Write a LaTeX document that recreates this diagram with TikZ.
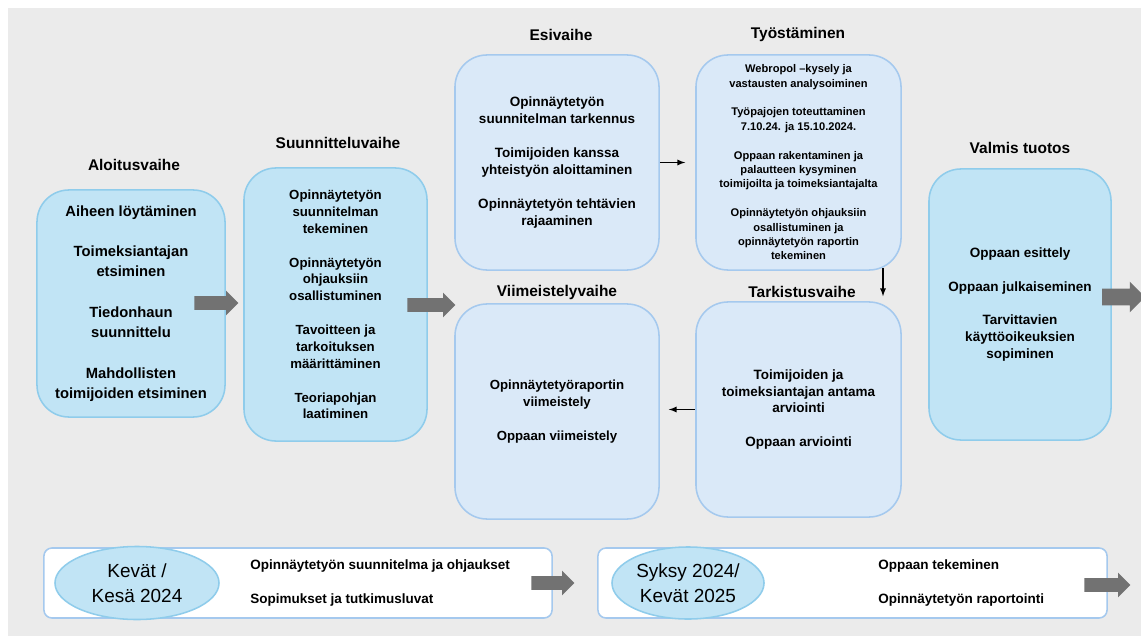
\documentclass[tikz,border=0pt]{standalone}
\usepackage{fontspec}
\setmainfont{Liberation Sans}
\usetikzlibrary{shapes.geometric,shapes.arrows}
\definecolor{bggray}{HTML}{EBEBEB}
\definecolor{cyanfill}{HTML}{C1E4F5}
\definecolor{cyandraw}{HTML}{8FCCEB}
\definecolor{palefill}{HTML}{DAE9F8}
\definecolor{paledraw}{HTML}{A5C9EE}
\definecolor{arrowgray}{HTML}{727272}
\tikzset{
  phasebox/.style={rectangle,rounded corners=0.8cm,line width=1.1pt,align=center,inner sep=0pt,text=black},
  cyanbox/.style={phasebox,draw=cyandraw,fill=cyanfill},
  palebox/.style={phasebox,draw=paledraw,fill=palefill},
  phasetitle/.style={font=\fontsize{11}{13}\selectfont\bfseries,text=black},
  blockarrow/.style={single arrow,fill=arrowgray,draw=none,inner xsep=0pt,inner ysep=0.1625cm,minimum width=0.6cm,single arrow head extend=0.1375cm,single arrow head indent=0pt},
  bigblockarrow/.style={blockarrow,inner ysep=0.2cm,minimum width=0.75cm,single arrow head extend=0.175cm},
  thinarrow/.style={-latex,line width=0.9pt,black},
  timebar/.style={rectangle,rounded corners=0.2cm,draw=paledraw,fill=white,line width=1.1pt,minimum height=1.75cm},
  timeoval/.style={ellipse,draw=cyandraw,fill=cyanfill,line width=1.1pt,align=center,inner sep=0pt,font=\fontsize{13.5}{17.5}\selectfont},
  timetext/.style={align=left,anchor=west,inner sep=0pt,font=\fontsize{9.6}{24}\selectfont\bfseries}
}
\begin{document}
\begin{tikzpicture}[x=0.025cm,y=-0.025cm]
\useasboundingbox (0,0) rectangle (1141,636);
\fill[bggray] (8,8) rectangle (1141,636);

\node[cyanbox,minimum width=4.7cm,minimum height=5.675cm,font=\fontsize{10.5}{14.4}\selectfont\bfseries] (alo) at (131,303.5) {Aiheen löytäminen\\[14.4pt] Toimeksiantajan\\ etsiminen\\[14.4pt] Tiedonhaun\\ suunnittelu\\[14.4pt] Mahdollisten\\ toimijoiden etsiminen};
\node[cyanbox,minimum width=4.575cm,minimum height=6.825cm,font=\fontsize{9.4}{12}\selectfont\bfseries] (suun) at (335.5,304.5) {Opinnäytetyön\\ suunnitelman\\ tekeminen\\[12pt] Opinnäytetyön\\ ohjauksiin\\ osallistuminen\\[12pt] Tavoitteen ja\\ tarkoituksen\\ määrittäminen\\[12pt] Teoriapohjan\\ laatiminen};
\node[palebox,minimum width=5.1cm,minimum height=5.375cm,font=\fontsize{9.6}{12}\selectfont\bfseries] (esi) at (557,162.5) {Opinnäytetyön\\ suunnitelman tarkennus\\[12pt] Toimijoiden kanssa\\ yhteistyön aloittaminen\\[12pt] Opinnäytetyön tehtävien\\ rajaaminen};
\node[palebox,minimum width=5.125cm,minimum height=5.375cm,font=\fontsize{7.9}{10.3}\selectfont\bfseries] (tyo) at (798.5,162.5) {Webropol --kysely ja\\ vastausten analysoiminen\\[10pt] Työpajojen toteuttaminen\\ 7.10.24. ja 15.10.2024.\\[10pt] Oppaan rakentaminen ja\\ palautteen kysyminen\\ toimijoilta ja toimeksiantajalta\\[10pt] Opinnäytetyön ohjauksiin\\ osallistuminen ja\\ opinnäytetyön raportin\\ tekeminen};
\node[palebox,minimum width=5.1cm,minimum height=5.375cm,font=\fontsize{9.4}{12}\selectfont\bfseries] (viim) at (557,411.5) {Opinnäytetyöraportin\\ viimeistely\\[12pt] Oppaan viimeistely};
\node[palebox,minimum width=5.125cm,minimum height=5.375cm,font=\fontsize{9.6}{12}\selectfont\bfseries] (tark) at (798.5,409.5) {Toimijoiden ja\\ toimeksiantajan antama\\ arviointi\\[12pt] Oppaan arviointi};
\node[cyanbox,minimum width=4.55cm,minimum height=6.775cm,font=\fontsize{9.6}{12}\selectfont\bfseries] (valm) at (1020,304.5) {Oppaan esittely\\[12pt] Oppaan julkaiseminen\\[12pt] Tarvittavien\\ käyttöoikeuksien\\ sopiminen};

\node[phasetitle] (alotitle) at (134,165) {Aloitusvaihe};
\node[phasetitle] (suuntitle) at (338,143) {Suunnitteluvaihe};
\node[phasetitle] (esititle) at (561,35) {Esivaihe};
\node[phasetitle] (tyotitle) at (798,35) {Työstäminen};
\node[phasetitle] (viimtitle) at (557,292) {Viimeistelyvaihe};
\node[phasetitle] (tarktitle) at (802,292) {Tarkistusvaihe};
\node[phasetitle] (valmtitle) at (1020,148) {Valmis tuotos};

\node[blockarrow,minimum height=1.1cm] (arr1) at (213,303) {};
\node[blockarrow,minimum height=1.2cm] (arr2) at (428,305) {};
\node[bigblockarrow,minimum height=1.075cm] (arr3) at (1119.5,297) {};

\draw[thinarrow,shorten >=0.25cm] (esi) -- (tyo);
\coordinate (tyodown) at (883,268);
\draw[thinarrow,shorten >=0.125cm] (tyodown) -- (tyodown |- tark.north);
\draw[thinarrow,shorten >=0.225cm] (tark.west) -- (tark.west -| viim.east);

\node[timebar,minimum width=12.7cm] (kevatbar) at (298,583) {};
\node[timeoval,minimum width=4.1cm,minimum height=1.825cm] (kevat) at (137,583) {Kevät /\\ Kesä 2024};
\node[timetext] (kevattext) at (250,583) {Opinnäytetyön suunnitelma ja ohjaukset\\ Sopimukset ja tutkimusluvat};
\node[blockarrow,minimum height=1.075cm] (arr4) at (549.5,583) {};

\node[timebar,minimum width=12.725cm] (syksybar) at (852.5,583) {};
\node[timeoval,minimum width=3.8cm,minimum height=1.8cm] (syksy) at (688,583) {Syksy 2024/\\ Kevät 2025};
\node[timetext] (syksytext) at (878,583) {Oppaan tekeminen\\ Opinnäytetyön raportointi};
\node[blockarrow,minimum height=1.15cm] (arr5) at (1104,585) {};
\end{tikzpicture}
\end{document}
